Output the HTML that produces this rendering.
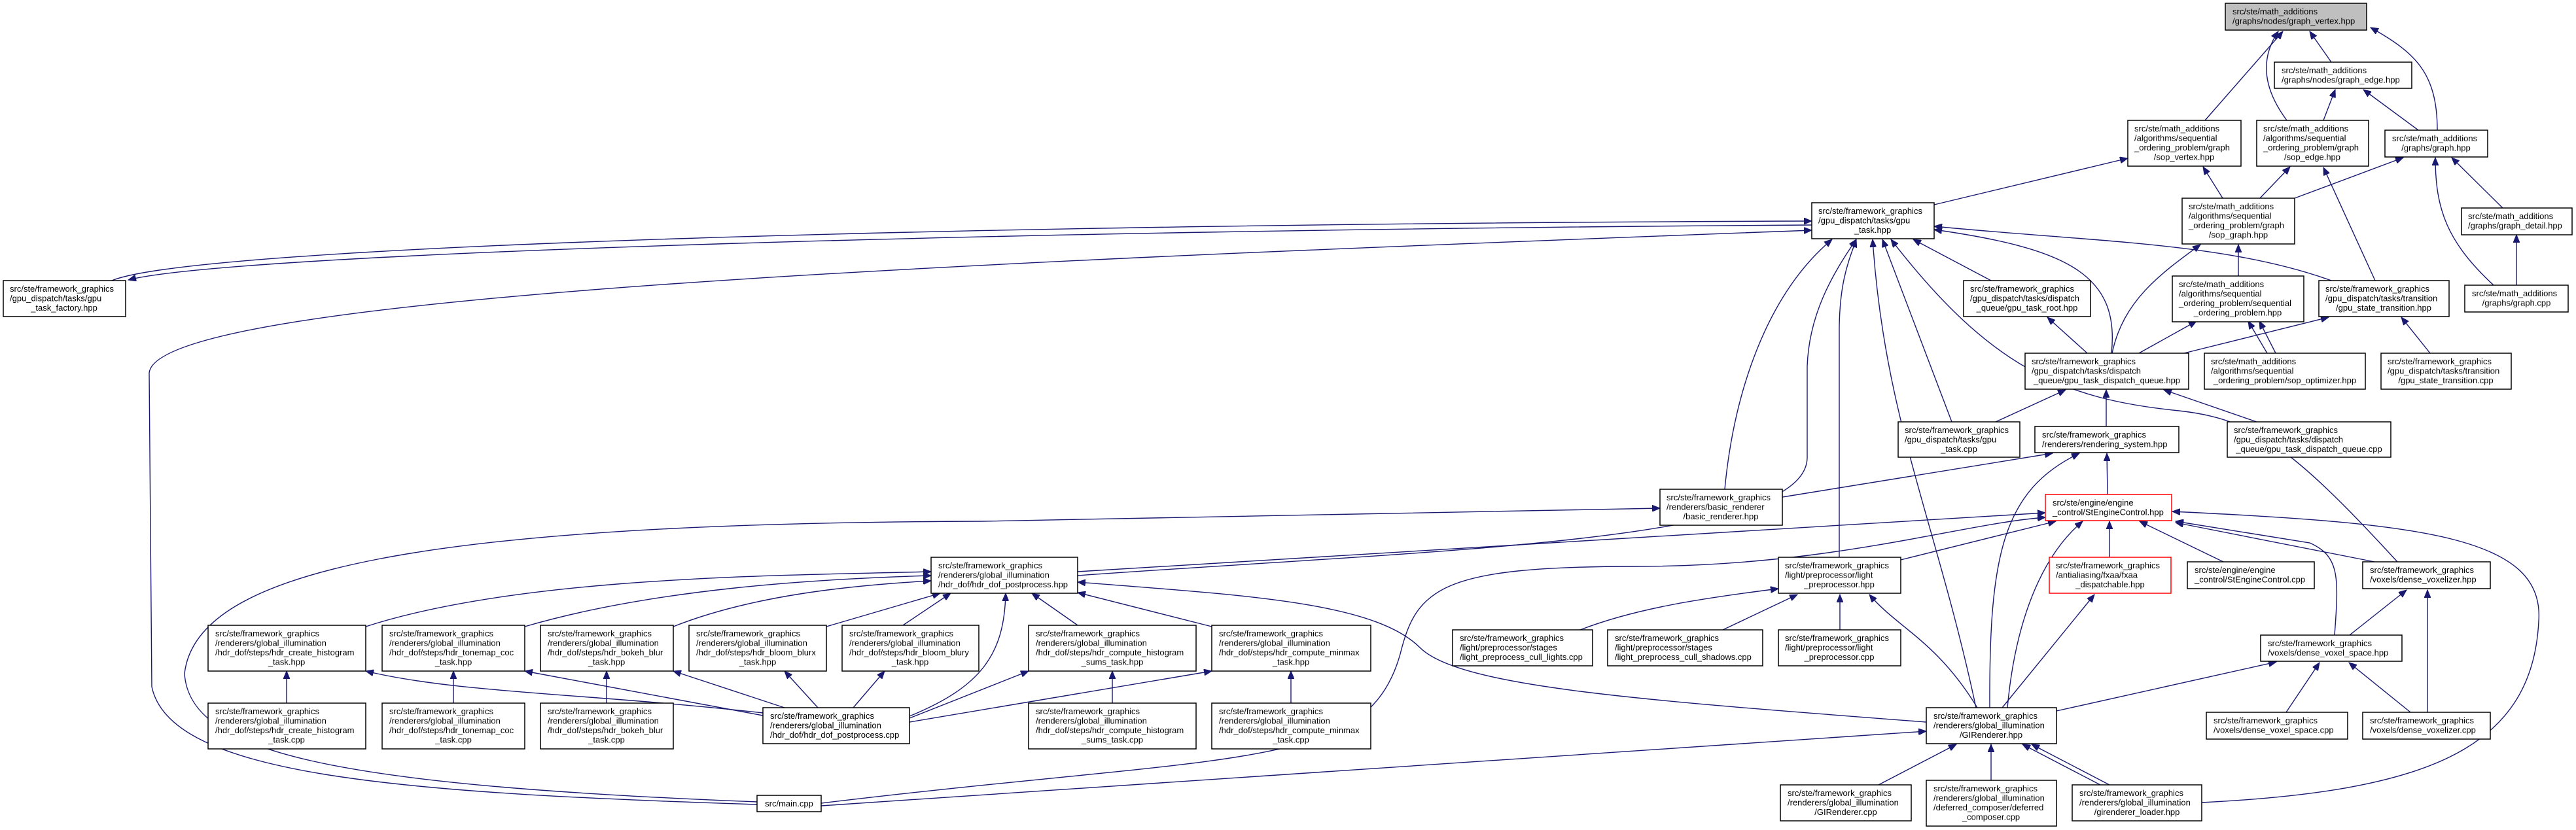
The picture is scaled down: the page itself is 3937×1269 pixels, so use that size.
<!DOCTYPE html>
<html><head><meta charset="utf-8"><style>
html,body{margin:0;padding:0;background:#fff;}
svg{display:block;}
text{font-family:"Liberation Sans",Arial,sans-serif;font-size:13px;fill:#000;}
.n rect{fill:#fff;stroke:#000;stroke-width:1.5;}
.e{fill:none;stroke:#191970;stroke-width:1.4;marker-end:url(#a);}
.m{text-anchor:middle;}
</style></head><body>
<svg width="3937" height="1269" viewBox="0 0 3937 1269" xmlns="http://www.w3.org/2000/svg">
<defs><marker id="a" markerUnits="userSpaceOnUse" markerWidth="13" markerHeight="10" refX="12" refY="5" orient="auto"><path d="M0,0 L12,5 L0,10 z" fill="#191970" stroke="#191970"/></marker></defs>

<!-- edges -->
<g>
<path class="e" d="M3563,95 L3530,48"/>
<path class="e" d="M3370,184 L3489,48"/>
<path class="e" d="M3495,184 Q3440,110 3482,48"/>
<path class="e" d="M3725,199 C3725,110 3690,80 3623,42"/>
<path class="e" d="M3551,184 L3569,137"/>
<path class="e" d="M3696,199 L3612,137"/>
<path class="e" d="M2956,313 L3252,242"/>
<path class="e" d="M3397,303 L3367,255"/>
<path class="e" d="M3454,303 L3500,255"/>
<path class="e" d="M3507,303 L3673,241"/>
<path class="e" d="M3825,318 L3747,241"/>
<path class="e" d="M3811,436 C3740,370 3722,320 3722,241"/>
<path class="e" d="M3846,436 L3846,359"/>
<path class="e" d="M3630,429 L3551,256"/>
<path class="e" d="M3421,422 L3421,374"/>
<path class="e" d="M3228,540 C3245,460 3300,420 3363,374"/>
<path class="e" d="M3190,540 L3129,485"/>
<path class="e" d="M3269,540 L3357,491"/>
<path class="e" d="M3338,540 L3559,485"/>
<path class="e" d="M3227,540 C3240,420 3160,380 2956,351"/>
<path class="e" d="M3465,540 L3436,491"/>
<path class="e" d="M3478,540 L3453,491"/>
<path class="e" d="M3714,540 L3670,485"/>
<path class="e" d="M3043,429 L2924,366"/>
<path class="e" d="M3563,429 C3400,370 3200,370 2956,346"/>
<path class="e" d="M171,429 C300,375 1500,342 2769,338"/>
<path class="e" d="M2769,344 C1500,352 350,388 196,428"/>
<path class="e" d="M1157,1230 C600,1212 260,1185 232,1050 L228,570 C240,450 1500,400 2769,352"/>
<path class="e" d="M1157,1226 C500,1200 290,1150 282,1030 C300,870 650,800 1500,797 L2537,777"/>
<path class="e" d="M3050,645 L3157,596"/>
<path class="e" d="M2983,645 L2877,366"/>
<path class="e" d="M3219,652 L3219,596"/>
<path class="e" d="M3449,645 L3307,596"/>
<path class="e" d="M3664,859 C3500,680 3440,640 3330,628 C3150,610 3040,560 2890,366"/>
<path class="e" d="M2636,748 C2650,600 2700,450 2800,366"/>
<path class="e" d="M1647,880 C2200,840 2760,830 2762,700 L2762,560 C2765,480 2800,420 2837,366"/>
<path class="e" d="M1647,874 L3126,784"/>
<path class="e" d="M1255,1228 C1900,1150 2090,1180 2140,1000 C2165,900 2200,866 2500,866 C2800,866 3000,800 3126,791"/>
<path class="e" d="M3020,1082 C2960,800 2880,640 2862,366"/>
<path class="e" d="M3041,1082 C3040,850 3060,750 3178,693"/>
<path class="e" d="M3068,1082 C3080,950 3120,850 3183,797"/>
<path class="e" d="M3022,1082 C2960,980 2900,960 2857,909"/>
<path class="e" d="M3060,1082 L3201,909"/>
<path class="e" d="M3143,1087 L3479,1012"/>
<path class="e" d="M2944,1104 C2500,1070 2230,1050 2170,990 C2100,920 1900,910 1647,890"/>
<path class="e" d="M1255,1232 L2944,1118"/>
<path class="e" d="M2724,760 L3137,693"/>
<path class="e" d="M3221,756 L3220,693"/>
<path class="e" d="M3224,852 L3224,797"/>
<path class="e" d="M3398,859 L3270,797"/>
<path class="e" d="M3629,859 L3325,799"/>
<path class="e" d="M3568,971 C3575,880 3575,850 3530,830 L3325,797"/>
<path class="e" d="M3591,971 L3678,902"/>
<path class="e" d="M3494,1089 L3545,1013"/>
<path class="e" d="M3684,1089 L3590,1013"/>
<path class="e" d="M3710,1089 L3710,902"/>
<path class="e" d="M3365,1227 C3700,1210 3870,1150 3880,950 C3890,820 3700,800 3320,782"/>
<path class="e" d="M3210,1200 L3091,1138"/>
<path class="e" d="M3224,1200 L3105,1138"/>
<path class="e" d="M2871,1200 L2990,1138"/>
<path class="e" d="M3043,1193 L3043,1138"/>
<path class="e" d="M2905,856 L3142,797"/>
<path class="e" d="M2811,852 L2811,500 C2812,430 2825,400 2837,366"/>
<path class="e" d="M2415,963 C2500,930 2600,915 2718,900"/>
<path class="e" d="M2633,963 L2747,909"/>
<path class="e" d="M2812,963 L2812,909"/>
<path class="e" d="M559,958 C800,880 1200,880 1423,874"/>
<path class="e" d="M802,958 C1000,900 1250,885 1423,880"/>
<path class="e" d="M1029,958 C1150,910 1300,895 1423,888"/>
<path class="e" d="M1263,958 L1437,907"/>
<path class="e" d="M1380,956 L1453,907"/>
<path class="e" d="M1647,956 L1577,907"/>
<path class="e" d="M1852,958 L1647,906"/>
<path class="e" d="M1390,1095 C1500,1050 1535,1000 1537,907"/>
<path class="e" d="M438,1075 L438,1026"/>
<path class="e" d="M693,1075 L693,1026"/>
<path class="e" d="M927,1075 L927,1026"/>
<path class="e" d="M1700,1075 L1700,1026"/>
<path class="e" d="M1973,1075 L1973,1026"/>
<path class="e" d="M1166,1090 C900,1060 700,1060 559,1026"/>
<path class="e" d="M1166,1094 L802,1026"/>
<path class="e" d="M1199,1082 L1029,1026"/>
<path class="e" d="M1250,1082 L1199,1026"/>
<path class="e" d="M1304,1082 L1352,1026"/>
<path class="e" d="M1390,1098 L1572,1026"/>
<path class="e" d="M1390,1104 L1852,1026"/>
</g>

<!-- nodes -->
<g class="n">
<rect x="3401" y="5" width="216" height="41" style="fill:#bfbfbf"/><text x="3412" y="22">src/ste/math_additions</text><text x="3412" y="36.5">/graphs/nodes/graph_vertex.hpp</text>
<rect x="3476" y="95" width="210" height="40"/><text x="3487" y="112">src/ste/math_additions</text><text x="3487" y="126.5">/graphs/nodes/graph_edge.hpp</text>
<rect x="3252" y="184" width="173" height="70"/><text x="3262" y="201">src/ste/math_additions</text><text x="3262" y="215.5">/algorithms/sequential</text><text x="3262" y="230">_ordering_problem/graph</text><text class="m" x="3338" y="244.5">/sop_vertex.hpp</text>
<rect x="3449" y="184" width="171" height="70"/><text x="3459" y="201">src/ste/math_additions</text><text x="3459" y="215.5">/algorithms/sequential</text><text x="3459" y="230">_ordering_problem/graph</text><text class="m" x="3534" y="244.5">/sop_edge.hpp</text>
<rect x="3645" y="199" width="157" height="41"/><text x="3656" y="216">src/ste/math_additions</text><text class="m" x="3723" y="230.5">/graphs/graph.hpp</text>
<rect x="2769" y="310" width="187" height="55"/><text x="2779" y="327">src/ste/framework_graphics</text><text x="2779" y="341.5">/gpu_dispatch/tasks/gpu</text><text class="m" x="2862" y="356">_task.hpp</text>
<rect x="3335" y="303" width="172" height="70"/><text x="3345" y="320">src/ste/math_additions</text><text x="3345" y="334.5">/algorithms/sequential</text><text x="3345" y="349">_ordering_problem/graph</text><text class="m" x="3421" y="363.5">/sop_graph.hpp</text>
<rect x="3762" y="318" width="169" height="41"/><text x="3772" y="335">src/ste/math_additions</text><text x="3772" y="349.5">/graphs/graph_detail.hpp</text>
<rect x="3001" y="429" width="194" height="55"/><text x="3011" y="446">src/ste/framework_graphics</text><text x="3011" y="460.5">/gpu_dispatch/tasks/dispatch</text><text class="m" x="3098" y="475">_queue/gpu_task_root.hpp</text>
<rect x="3320" y="422" width="201" height="70"/><text x="3330" y="439">src/ste/math_additions</text><text x="3330" y="453.5">/algorithms/sequential</text><text x="3330" y="468">_ordering_problem/sequential</text><text class="m" x="3420" y="482.5">_ordering_problem.hpp</text>
<rect x="3544" y="429" width="199" height="55"/><text x="3554" y="446">src/ste/framework_graphics</text><text x="3554" y="460.5">/gpu_dispatch/tasks/transition</text><text class="m" x="3643" y="475">/gpu_state_transition.hpp</text>
<rect x="3767" y="436" width="158" height="41"/><text x="3778" y="453">src/ste/math_additions</text><text class="m" x="3846" y="467.5">/graphs/graph.cpp</text>
<rect x="3095" y="540" width="250" height="55"/><text x="3105" y="557">src/ste/framework_graphics</text><text x="3105" y="571.5">/gpu_dispatch/tasks/dispatch</text><text class="m" x="3220" y="586">_queue/gpu_task_dispatch_queue.hpp</text>
<rect x="3369" y="540" width="246" height="55"/><text x="3379" y="557">src/ste/math_additions</text><text x="3379" y="571.5">/algorithms/sequential</text><text class="m" x="3492" y="586">_ordering_problem/sop_optimizer.hpp</text>
<rect x="3639" y="540" width="199" height="55"/><text x="3649" y="557">src/ste/framework_graphics</text><text x="3649" y="571.5">/gpu_dispatch/tasks/transition</text><text class="m" x="3738" y="586">/gpu_state_transition.cpp</text>
<rect x="5" y="429" width="187" height="55"/><text x="15" y="446">src/ste/framework_graphics</text><text x="15" y="460.5">/gpu_dispatch/tasks/gpu</text><text class="m" x="98" y="475">_task_factory.hpp</text>
<rect x="2901" y="645" width="186" height="54"/><text x="2911" y="662">src/ste/framework_graphics</text><text x="2911" y="676.5">/gpu_dispatch/tasks/gpu</text><text class="m" x="2994" y="691">_task.cpp</text>
<rect x="3110" y="652" width="220" height="40"/><text x="3121" y="669">src/ste/framework_graphics</text><text x="3121" y="683.5">/renderers/rendering_system.hpp</text>
<rect x="3404" y="645" width="250" height="54"/><text x="3414" y="662">src/ste/framework_graphics</text><text x="3414" y="676.5">/gpu_dispatch/tasks/dispatch</text><text class="m" x="3529" y="691">_queue/gpu_task_dispatch_queue.cpp</text>
<rect x="2537" y="748" width="187" height="55"/><text x="2547" y="765">src/ste/framework_graphics</text><text x="2547" y="779.5">/renderers/basic_renderer</text><text class="m" x="2630" y="794">/basic_renderer.hpp</text>
<rect x="3126" y="756" width="193" height="40" style="stroke:#f00"/><text x="3137" y="773">src/ste/engine/engine</text><text x="3137" y="787.5">_control/StEngineControl.hpp</text>
<rect x="2718" y="852" width="187" height="55"/><text x="2728" y="869">src/ste/framework_graphics</text><text x="2728" y="883.5">/light/preprocessor/light</text><text class="m" x="2811" y="898">_preprocessor.hpp</text>
<rect x="3132" y="852" width="186" height="55" style="stroke:#f00"/><text x="3142" y="869">src/ste/framework_graphics</text><text x="3142" y="883.5">/antialiasing/fxaa/fxaa</text><text class="m" x="3225" y="898">_dispatchable.hpp</text>
<rect x="3343" y="859" width="194" height="41"/><text x="3354" y="876">src/ste/engine/engine</text><text x="3354" y="890.5">_control/StEngineControl.cpp</text>
<rect x="3611" y="859" width="195" height="41"/><text x="3622" y="876">src/ste/framework_graphics</text><text x="3622" y="890.5">/voxels/dense_voxelizer.hpp</text>
<rect x="1423" y="852" width="224" height="55"/><text x="1434" y="869">src/ste/framework_graphics</text><text x="1434" y="883.5">/renderers/global_illumination</text><text x="1434" y="898">/hdr_dof/hdr_dof_postprocess.hpp</text>

<rect x="318" y="956" width="241" height="70"/><text x="329" y="973">src/ste/framework_graphics</text><text x="329" y="987.5">/renderers/global_illumination</text><text x="329" y="1002">/hdr_dof/steps/hdr_create_histogram</text><text class="m" x="438" y="1016.5">_task.hpp</text>
<rect x="584" y="956" width="218" height="70"/><text x="595" y="973">src/ste/framework_graphics</text><text x="595" y="987.5">/renderers/global_illumination</text><text x="595" y="1002">/hdr_dof/steps/hdr_tonemap_coc</text><text class="m" x="693" y="1016.5">_task.hpp</text>
<rect x="826" y="956" width="203" height="70"/><text x="837" y="973">src/ste/framework_graphics</text><text x="837" y="987.5">/renderers/global_illumination</text><text x="837" y="1002">/hdr_dof/steps/hdr_bokeh_blur</text><text class="m" x="927" y="1016.5">_task.hpp</text>
<rect x="1053" y="956" width="210" height="70"/><text x="1064" y="973">src/ste/framework_graphics</text><text x="1064" y="987.5">/renderers/global_illumination</text><text x="1064" y="1002">/hdr_dof/steps/hdr_bloom_blurx</text><text class="m" x="1158" y="1016.5">_task.hpp</text>
<rect x="1287" y="956" width="209" height="70"/><text x="1298" y="973">src/ste/framework_graphics</text><text x="1298" y="987.5">/renderers/global_illumination</text><text x="1298" y="1002">/hdr_dof/steps/hdr_bloom_blury</text><text class="m" x="1391" y="1016.5">_task.hpp</text>
<rect x="1572" y="956" width="256" height="70"/><text x="1583" y="973">src/ste/framework_graphics</text><text x="1583" y="987.5">/renderers/global_illumination</text><text x="1583" y="1002">/hdr_dof/steps/hdr_compute_histogram</text><text class="m" x="1700" y="1016.5">_sums_task.hpp</text>
<rect x="1852" y="956" width="243" height="70"/><text x="1863" y="973">src/ste/framework_graphics</text><text x="1863" y="987.5">/renderers/global_illumination</text><text x="1863" y="1002">/hdr_dof/steps/hdr_compute_minmax</text><text class="m" x="1973" y="1016.5">_task.hpp</text>

<rect x="318" y="1075" width="241" height="70"/><text x="329" y="1092">src/ste/framework_graphics</text><text x="329" y="1106.5">/renderers/global_illumination</text><text x="329" y="1121">/hdr_dof/steps/hdr_create_histogram</text><text class="m" x="438" y="1135.5">_task.cpp</text>
<rect x="584" y="1075" width="218" height="70"/><text x="595" y="1092">src/ste/framework_graphics</text><text x="595" y="1106.5">/renderers/global_illumination</text><text x="595" y="1121">/hdr_dof/steps/hdr_tonemap_coc</text><text class="m" x="693" y="1135.5">_task.cpp</text>
<rect x="826" y="1075" width="203" height="70"/><text x="837" y="1092">src/ste/framework_graphics</text><text x="837" y="1106.5">/renderers/global_illumination</text><text x="837" y="1121">/hdr_dof/steps/hdr_bokeh_blur</text><text class="m" x="927" y="1135.5">_task.cpp</text>
<rect x="1572" y="1075" width="256" height="70"/><text x="1583" y="1092">src/ste/framework_graphics</text><text x="1583" y="1106.5">/renderers/global_illumination</text><text x="1583" y="1121">/hdr_dof/steps/hdr_compute_histogram</text><text class="m" x="1700" y="1135.5">_sums_task.cpp</text>
<rect x="1852" y="1075" width="243" height="70"/><text x="1863" y="1092">src/ste/framework_graphics</text><text x="1863" y="1106.5">/renderers/global_illumination</text><text x="1863" y="1121">/hdr_dof/steps/hdr_compute_minmax</text><text class="m" x="1973" y="1135.5">_task.cpp</text>
<rect x="1166" y="1082" width="224" height="55"/><text x="1177" y="1099">src/ste/framework_graphics</text><text x="1177" y="1113.5">/renderers/global_illumination</text><text x="1177" y="1128">/hdr_dof/hdr_dof_postprocess.cpp</text>

<rect x="2220" y="963" width="214" height="55"/><text x="2231" y="980">src/ste/framework_graphics</text><text x="2231" y="994.5">/light/preprocessor/stages</text><text x="2231" y="1009">/light_preprocess_cull_lights.cpp</text>
<rect x="2457" y="963" width="237" height="55"/><text x="2468" y="980">src/ste/framework_graphics</text><text x="2468" y="994.5">/light/preprocessor/stages</text><text x="2468" y="1009">/light_preprocess_cull_shadows.cpp</text>
<rect x="2718" y="963" width="187" height="55"/><text x="2728" y="980">src/ste/framework_graphics</text><text x="2728" y="994.5">/light/preprocessor/light</text><text class="m" x="2811" y="1009">_preprocessor.cpp</text>
<rect x="3455" y="971" width="216" height="40"/><text x="3466" y="988">src/ste/framework_graphics</text><text x="3466" y="1002.5">/voxels/dense_voxel_space.hpp</text>
<rect x="2944" y="1082" width="199" height="55"/><text x="2955" y="1099">src/ste/framework_graphics</text><text x="2955" y="1113.5">/renderers/global_illumination</text><text class="m" x="3043" y="1128">/GIRenderer.hpp</text>
<rect x="3372" y="1089" width="216" height="41"/><text x="3383" y="1106">src/ste/framework_graphics</text><text x="3383" y="1120.5">/voxels/dense_voxel_space.cpp</text>
<rect x="3611" y="1089" width="195" height="41"/><text x="3622" y="1106">src/ste/framework_graphics</text><text x="3622" y="1120.5">/voxels/dense_voxelizer.cpp</text>
<rect x="2721" y="1200" width="200" height="55"/><text x="2732" y="1217">src/ste/framework_graphics</text><text x="2732" y="1231.5">/renderers/global_illumination</text><text class="m" x="2821" y="1246">/GIRenderer.cpp</text>
<rect x="2944" y="1193" width="199" height="70"/><text x="2955" y="1210">src/ste/framework_graphics</text><text x="2955" y="1224.5">/renderers/global_illumination</text><text x="2955" y="1239">/deferred_composer/deferred</text><text class="m" x="3043" y="1253.5">_composer.cpp</text>
<rect x="3167" y="1200" width="198" height="55"/><text x="3178" y="1217">src/ste/framework_graphics</text><text x="3178" y="1231.5">/renderers/global_illumination</text><text class="m" x="3266" y="1246">/girenderer_loader.hpp</text>
<rect x="1157" y="1216" width="98" height="25"/><text class="m" x="1206" y="1233">src/main.cpp</text>
</g>
</svg>
</body></html>
